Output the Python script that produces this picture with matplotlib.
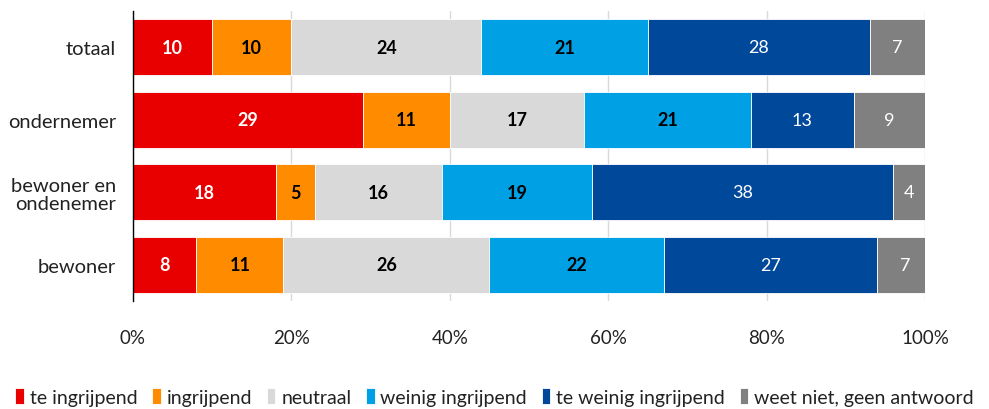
import matplotlib
matplotlib.use("Agg")
import matplotlib.pyplot as plt
import numpy as np

plt.rcParams['font.family'] = ['Lato', 'DejaVu Sans']

categories = ["totaal", "ondernemer", "bewoner en\nondenemer", "bewoner"]
series_names = ["te ingrijpend", "ingrijpend", "neutraal", "weinig ingrijpend",
                "te weinig ingrijpend", "weet niet, geen antwoord"]
values = {
    "te ingrijpend": [10, 29, 18, 8],
    "ingrijpend": [10, 11, 5, 11],
    "neutraal": [24, 17, 16, 26],
    "weinig ingrijpend": [21, 21, 19, 22],
    "te weinig ingrijpend": [28, 13, 38, 27],
    "weet niet, geen antwoord": [7, 9, 4, 7],
}
colors = ["#E80000", "#FF8C00", "#D9D9D9", "#00A0E4", "#00489A", "#808080"]
label_colors = ["white", "black", "black", "black", "white", "white"]
label_weights = ["bold", "bold", "bold", "bold", "normal", "normal"]
xticks = [0, 20, 40, 60, 80, 100]
xticklabels = ["0%", "20%", "40%", "60%", "80%", "100%"]

fig = plt.figure(figsize=(9.89, 4.10), dpi=100)
ax = fig.add_axes([133/989, 1-302/410, 792/989, 290/410])

y = np.arange(len(categories))
left = np.zeros(len(categories))
for i, name in enumerate(series_names):
    vals = np.array(values[name], dtype=float)
    ax.barh(y, vals, left=left, height=0.77, color=colors[i],
            edgecolor="white", linewidth=0.6, label=name, zorder=3)
    for yy, l, v in zip(y, left, vals):
        ax.text(l + v/2, yy, f"{int(v)}", ha="center", va="center",
                color=label_colors[i], fontsize=13, fontweight=label_weights[i], zorder=4)
    left += vals

ax.set_xlim(0, 100)
ax.set_ylim(len(categories)-0.5, -0.5)
ax.set_yticks(y)
ax.set_yticklabels(categories, fontsize=14.5, color="#222222", linespacing=1.1)
ax.set_xticks(xticks)
ax.set_xticklabels(xticklabels, fontsize=13.5, color="#222222")
ax.tick_params(axis="y", length=0, pad=12)
ax.tick_params(axis="x", length=0, pad=20)
ax.grid(axis="x", color="#D9D9D9", linewidth=1, zorder=0)
for s in ["top", "right", "bottom"]:
    ax.spines[s].set_visible(False)
ax.spines["left"].set_color("black")
ax.spines["left"].set_linewidth(1)
ax.spines["left"].set_zorder(5)

fig.legend(loc="lower center", bbox_to_anchor=(0.5, -0.035), ncol=6, frameon=False,
           fontsize=14, handlelength=0.45, handleheight=0.9, handletextpad=0.3,
           columnspacing=0.75, labelcolor="#222222")

fig.savefig("out.png", dpi=100)
